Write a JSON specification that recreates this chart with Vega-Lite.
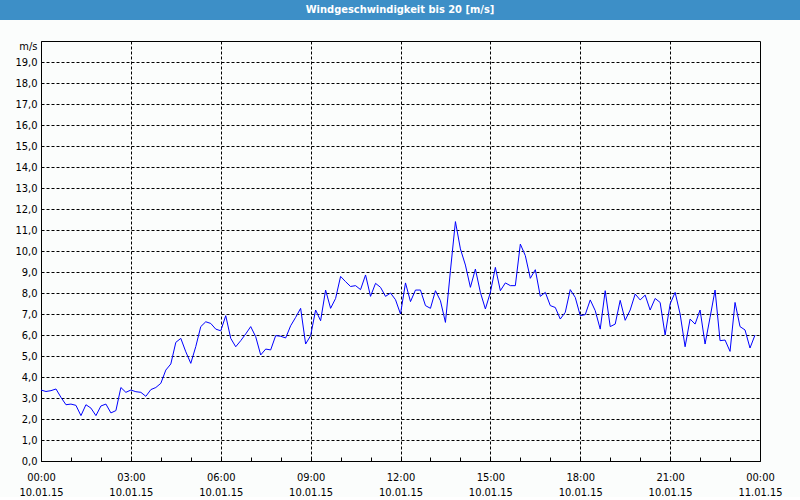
{
 "$schema": "https://vega.github.io/schema/vega-lite/v6.json",
 "background": "#fbfdfc",
 "padding": 0,
 "spacing": 20,
 "config": {"view": {"stroke": null}, "font": "DejaVu Sans Condensed"},
 "vconcat": [
  {
   "width": 800,
   "height": 20,
   "view": {"fill": "#3d8fc7", "stroke": null},
   "data": {"values": [{"title": "Windgeschwindigkeit bis 20 [m/s]"}]},
   "mark": {"type": "text", "color": "white", "fontWeight": "bold", "fontSize": 11, "font": "DejaVu Sans Condensed", "baseline": "middle", "align": "center"},
   "encoding": {"text": {"field": "title", "type": "nominal"}}
  },
  {
   "width": 800,
   "height": 420,
   "view": {"stroke": null},
   "data": {"values": [
    {"t": "2015-01-10T00:00:00", "v": 3.38},
    {"t": "2015-01-10T00:10:00", "v": 3.31},
    {"t": "2015-01-10T00:20:00", "v": 3.35},
    {"t": "2015-01-10T00:30:00", "v": 3.43},
    {"t": "2015-01-10T00:40:00", "v": 3.03},
    {"t": "2015-01-10T00:50:00", "v": 2.68},
    {"t": "2015-01-10T01:00:00", "v": 2.71},
    {"t": "2015-01-10T01:10:00", "v": 2.65},
    {"t": "2015-01-10T01:20:00", "v": 2.16},
    {"t": "2015-01-10T01:30:00", "v": 2.68},
    {"t": "2015-01-10T01:40:00", "v": 2.52},
    {"t": "2015-01-10T01:50:00", "v": 2.16},
    {"t": "2015-01-10T02:00:00", "v": 2.62},
    {"t": "2015-01-10T02:10:00", "v": 2.71},
    {"t": "2015-01-10T02:20:00", "v": 2.29},
    {"t": "2015-01-10T02:30:00", "v": 2.40},
    {"t": "2015-01-10T02:40:00", "v": 3.50},
    {"t": "2015-01-10T02:50:00", "v": 3.27},
    {"t": "2015-01-10T03:00:00", "v": 3.38},
    {"t": "2015-01-10T03:10:00", "v": 3.30},
    {"t": "2015-01-10T03:20:00", "v": 3.27},
    {"t": "2015-01-10T03:30:00", "v": 3.08},
    {"t": "2015-01-10T03:40:00", "v": 3.40},
    {"t": "2015-01-10T03:50:00", "v": 3.50},
    {"t": "2015-01-10T04:00:00", "v": 3.70},
    {"t": "2015-01-10T04:10:00", "v": 4.33},
    {"t": "2015-01-10T04:20:00", "v": 4.62},
    {"t": "2015-01-10T04:30:00", "v": 5.65},
    {"t": "2015-01-10T04:40:00", "v": 5.84},
    {"t": "2015-01-10T04:50:00", "v": 5.20},
    {"t": "2015-01-10T05:00:00", "v": 4.65},
    {"t": "2015-01-10T05:10:00", "v": 5.45},
    {"t": "2015-01-10T05:20:00", "v": 6.40},
    {"t": "2015-01-10T05:30:00", "v": 6.63},
    {"t": "2015-01-10T05:40:00", "v": 6.55},
    {"t": "2015-01-10T05:50:00", "v": 6.28},
    {"t": "2015-01-10T06:00:00", "v": 6.20},
    {"t": "2015-01-10T06:10:00", "v": 6.92},
    {"t": "2015-01-10T06:20:00", "v": 5.84},
    {"t": "2015-01-10T06:30:00", "v": 5.44},
    {"t": "2015-01-10T06:40:00", "v": 5.73},
    {"t": "2015-01-10T06:50:00", "v": 6.05},
    {"t": "2015-01-10T07:00:00", "v": 6.40},
    {"t": "2015-01-10T07:10:00", "v": 5.92},
    {"t": "2015-01-10T07:20:00", "v": 5.05},
    {"t": "2015-01-10T07:30:00", "v": 5.33},
    {"t": "2015-01-10T07:40:00", "v": 5.29},
    {"t": "2015-01-10T07:50:00", "v": 5.97},
    {"t": "2015-01-10T08:00:00", "v": 5.94},
    {"t": "2015-01-10T08:10:00", "v": 5.86},
    {"t": "2015-01-10T08:20:00", "v": 6.44},
    {"t": "2015-01-10T08:30:00", "v": 6.84},
    {"t": "2015-01-10T08:40:00", "v": 7.27},
    {"t": "2015-01-10T08:50:00", "v": 5.57},
    {"t": "2015-01-10T09:00:00", "v": 5.97},
    {"t": "2015-01-10T09:10:00", "v": 7.19},
    {"t": "2015-01-10T09:20:00", "v": 6.68},
    {"t": "2015-01-10T09:30:00", "v": 8.14},
    {"t": "2015-01-10T09:40:00", "v": 7.27},
    {"t": "2015-01-10T09:50:00", "v": 7.74},
    {"t": "2015-01-10T10:00:00", "v": 8.79},
    {"t": "2015-01-10T10:10:00", "v": 8.54},
    {"t": "2015-01-10T10:20:00", "v": 8.31},
    {"t": "2015-01-10T10:30:00", "v": 8.35},
    {"t": "2015-01-10T10:40:00", "v": 8.16},
    {"t": "2015-01-10T10:50:00", "v": 8.86},
    {"t": "2015-01-10T11:00:00", "v": 7.84},
    {"t": "2015-01-10T11:10:00", "v": 8.46},
    {"t": "2015-01-10T11:20:00", "v": 8.27},
    {"t": "2015-01-10T11:30:00", "v": 7.84},
    {"t": "2015-01-10T11:40:00", "v": 8.00},
    {"t": "2015-01-10T11:50:00", "v": 7.68},
    {"t": "2015-01-10T12:00:00", "v": 7.00},
    {"t": "2015-01-10T12:10:00", "v": 8.48},
    {"t": "2015-01-10T12:20:00", "v": 7.59},
    {"t": "2015-01-10T12:30:00", "v": 8.14},
    {"t": "2015-01-10T12:40:00", "v": 8.14},
    {"t": "2015-01-10T12:50:00", "v": 7.40},
    {"t": "2015-01-10T13:00:00", "v": 7.27},
    {"t": "2015-01-10T13:10:00", "v": 8.11},
    {"t": "2015-01-10T13:20:00", "v": 7.63},
    {"t": "2015-01-10T13:30:00", "v": 6.60},
    {"t": "2015-01-10T13:40:00", "v": 9.06},
    {"t": "2015-01-10T13:50:00", "v": 11.40},
    {"t": "2015-01-10T14:00:00", "v": 10.10},
    {"t": "2015-01-10T14:10:00", "v": 9.33},
    {"t": "2015-01-10T14:20:00", "v": 8.27},
    {"t": "2015-01-10T14:30:00", "v": 9.14},
    {"t": "2015-01-10T14:40:00", "v": 8.03},
    {"t": "2015-01-10T14:50:00", "v": 7.24},
    {"t": "2015-01-10T15:00:00", "v": 8.03},
    {"t": "2015-01-10T15:10:00", "v": 9.22},
    {"t": "2015-01-10T15:20:00", "v": 8.11},
    {"t": "2015-01-10T15:30:00", "v": 8.48},
    {"t": "2015-01-10T15:40:00", "v": 8.35},
    {"t": "2015-01-10T15:50:00", "v": 8.35},
    {"t": "2015-01-10T16:00:00", "v": 10.33},
    {"t": "2015-01-10T16:10:00", "v": 9.78},
    {"t": "2015-01-10T16:20:00", "v": 8.70},
    {"t": "2015-01-10T16:30:00", "v": 9.11},
    {"t": "2015-01-10T16:40:00", "v": 7.84},
    {"t": "2015-01-10T16:50:00", "v": 8.03},
    {"t": "2015-01-10T17:00:00", "v": 7.40},
    {"t": "2015-01-10T17:10:00", "v": 7.31},
    {"t": "2015-01-10T17:20:00", "v": 6.76},
    {"t": "2015-01-10T17:30:00", "v": 7.08},
    {"t": "2015-01-10T17:40:00", "v": 8.16},
    {"t": "2015-01-10T17:50:00", "v": 7.79},
    {"t": "2015-01-10T18:00:00", "v": 6.92},
    {"t": "2015-01-10T18:10:00", "v": 6.97},
    {"t": "2015-01-10T18:20:00", "v": 7.67},
    {"t": "2015-01-10T18:30:00", "v": 7.16},
    {"t": "2015-01-10T18:40:00", "v": 6.28},
    {"t": "2015-01-10T18:50:00", "v": 8.11},
    {"t": "2015-01-10T19:00:00", "v": 6.40},
    {"t": "2015-01-10T19:10:00", "v": 6.52},
    {"t": "2015-01-10T19:20:00", "v": 7.65},
    {"t": "2015-01-10T19:30:00", "v": 6.70},
    {"t": "2015-01-10T19:40:00", "v": 7.19},
    {"t": "2015-01-10T19:50:00", "v": 7.95},
    {"t": "2015-01-10T20:00:00", "v": 7.67},
    {"t": "2015-01-10T20:10:00", "v": 7.90},
    {"t": "2015-01-10T20:20:00", "v": 7.19},
    {"t": "2015-01-10T20:30:00", "v": 7.74},
    {"t": "2015-01-10T20:40:00", "v": 7.55},
    {"t": "2015-01-10T20:50:00", "v": 6.00},
    {"t": "2015-01-10T21:00:00", "v": 7.48},
    {"t": "2015-01-10T21:10:00", "v": 8.03},
    {"t": "2015-01-10T21:20:00", "v": 7.00},
    {"t": "2015-01-10T21:30:00", "v": 5.44},
    {"t": "2015-01-10T21:40:00", "v": 6.76},
    {"t": "2015-01-10T21:50:00", "v": 6.52},
    {"t": "2015-01-10T22:00:00", "v": 7.19},
    {"t": "2015-01-10T22:10:00", "v": 5.57},
    {"t": "2015-01-10T22:20:00", "v": 6.84},
    {"t": "2015-01-10T22:30:00", "v": 8.14},
    {"t": "2015-01-10T22:40:00", "v": 5.73},
    {"t": "2015-01-10T22:50:00", "v": 5.76},
    {"t": "2015-01-10T23:00:00", "v": 5.22},
    {"t": "2015-01-10T23:10:00", "v": 7.55},
    {"t": "2015-01-10T23:20:00", "v": 6.40},
    {"t": "2015-01-10T23:30:00", "v": 6.24},
    {"t": "2015-01-10T23:40:00", "v": 5.38},
    {"t": "2015-01-10T23:50:00", "v": 6.00}
   ]},
   "mark": {"type": "line", "color": "#0000ff", "strokeWidth": 1},
   "encoding": {
    "x": {
     "field": "t",
     "type": "temporal",
     "scale": {"domain": ["2015-01-10T00:00:00", "2015-01-11T00:00:00"], "nice": false, "range": [41, 760]},
     "axis": {
      "title": null,
      "values": [
       {"year": 2015, "month": 1, "date": 10, "hours": 0},
       {"year": 2015, "month": 1, "date": 10, "hours": 1},
       {"year": 2015, "month": 1, "date": 10, "hours": 2},
       {"year": 2015, "month": 1, "date": 10, "hours": 3},
       {"year": 2015, "month": 1, "date": 10, "hours": 4},
       {"year": 2015, "month": 1, "date": 10, "hours": 5},
       {"year": 2015, "month": 1, "date": 10, "hours": 6},
       {"year": 2015, "month": 1, "date": 10, "hours": 7},
       {"year": 2015, "month": 1, "date": 10, "hours": 8},
       {"year": 2015, "month": 1, "date": 10, "hours": 9},
       {"year": 2015, "month": 1, "date": 10, "hours": 10},
       {"year": 2015, "month": 1, "date": 10, "hours": 11},
       {"year": 2015, "month": 1, "date": 10, "hours": 12},
       {"year": 2015, "month": 1, "date": 10, "hours": 13},
       {"year": 2015, "month": 1, "date": 10, "hours": 14},
       {"year": 2015, "month": 1, "date": 10, "hours": 15},
       {"year": 2015, "month": 1, "date": 10, "hours": 16},
       {"year": 2015, "month": 1, "date": 10, "hours": 17},
       {"year": 2015, "month": 1, "date": 10, "hours": 18},
       {"year": 2015, "month": 1, "date": 10, "hours": 19},
       {"year": 2015, "month": 1, "date": 10, "hours": 20},
       {"year": 2015, "month": 1, "date": 10, "hours": 21},
       {"year": 2015, "month": 1, "date": 10, "hours": 22},
       {"year": 2015, "month": 1, "date": 10, "hours": 23},
       {"year": 2015, "month": 1, "date": 11, "hours": 0}
      ],
      "labelExpr": "hours(datum.value) % 3 == 0 ? [timeFormat(datum.value, '%H:%M'), timeFormat(datum.value, '%d.%m.%y')] : ''",
      "labelOverlap": false,
      "labelFlush": false,
      "labelBound": false,
      "labelFont": "DejaVu Sans Condensed",
      "labelFontSize": 11,
      "labelColor": "#000000",
      "labelLineHeight": 15,
      "labelBaseline": "top",
      "labelPadding": 14,
      "ticks": true,
      "tickSize": -4,
      "tickColor": "#000000",
      "domain": true,
      "domainColor": "#000000",
      "grid": true,
      "gridColor": "#000000",
      "gridDash": {"condition": {"test": "hours(datum.value) == 0", "value": []}, "value": [3, 2]},
      "gridOpacity": {"condition": {"test": "hours(datum.value) % 3 == 0", "value": 1}, "value": 0}
     }
    },
    "y": {
     "field": "v",
     "type": "quantitative",
     "scale": {"domain": [0, 20], "nice": false},
     "axis": {
      "title": null,
      "offset": -41,
      "values": [0, 1, 2, 3, 4, 5, 6, 7, 8, 9, 10, 11, 12, 13, 14, 15, 16, 17, 18, 19, 20],
      "labelExpr": "datum.value == 20 ? 'm/s' : replace(format(datum.value, '.1f'), '.', ',')",
      "labelOverlap": false,
      "labelFlush": false,
      "labelBound": false,
      "labelFont": "DejaVu Sans Condensed",
      "labelFontSize": 11,
      "labelColor": "#000000",
      "labelPadding": 4,
      "labelOffset": {"condition": {"test": "datum.value == 20", "value": 5}, "value": 0},
      "ticks": false,
      "domain": true,
      "domainColor": "#000000",
      "grid": true,
      "gridColor": "#000000",
      "gridDash": {"condition": {"test": "datum.value == 20 || datum.value == 0", "value": []}, "value": [3, 2]}
     }
    }
   }
  }
 ]
}
